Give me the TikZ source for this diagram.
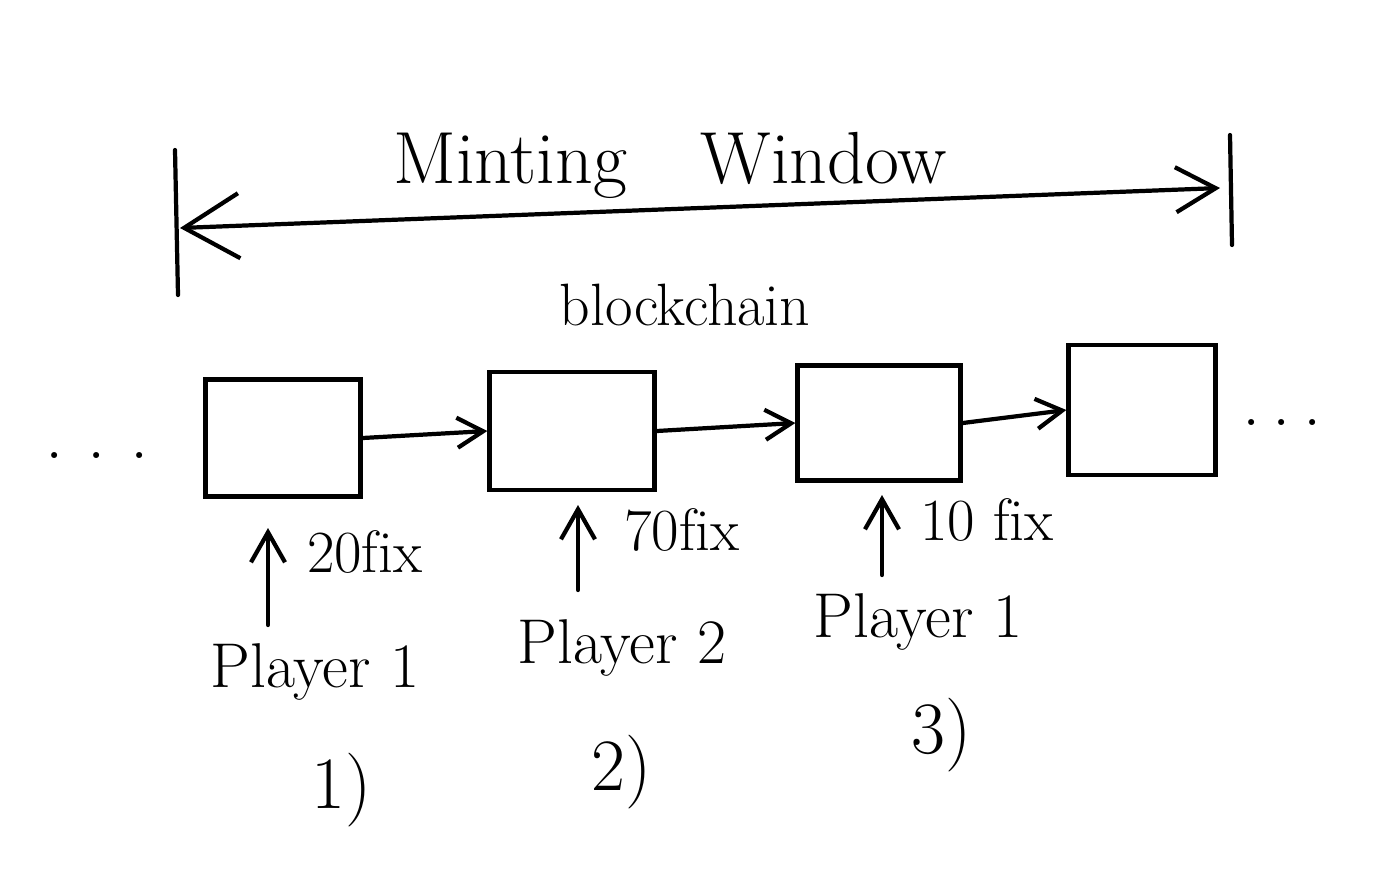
\documentclass[tikz,border=0pt]{standalone}
\usepackage{tikz}
\usetikzlibrary{positioning, arrows.meta}

\begin{document}
\begin{tikzpicture}[
    x=0.01cm, y=-0.01cm,
    line width=1.2pt, line cap=round,
    every node/.style={inner sep=0pt},
    blk/.style={draw, minimum width=1.55cm, minimum height=1.17cm},
    link/.style={-{Straight Barb[length=2.6mm, width=3mm]}},
    push/.style={-{Straight Barb[length=3mm, width=3.4mm]}},
    span/.style={{Straight Barb[length=5.5mm, width=6.5mm]}-{Straight Barb[length=4mm, width=4.5mm]}},
    title/.style={font=\fontsize{21}{25}\selectfont},
    chainlbl/.style={font=\fontsize{17}{20}\selectfont},
    fixlbl/.style={font=\fontsize{17}{20}\selectfont, anchor=west},
    who/.style={font=\fontsize{18}{22}\selectfont},
    dotsl/.style={font=\huge},
    num/.style={font=\fontsize{21}{25}\selectfont}
]
\useasboundingbox (0,0) rectangle (1400,875);

% minting window
\coordinate (lt) at (175,150);
\coordinate (lb) at (178,295);
\coordinate (rt) at (1230,135);
\coordinate (rb) at (1232,245);
\draw (lt) -- (lb);
\draw (rt) -- (rb);
\coordinate (wl) at (180,228);
\coordinate (wr) at (1220,188);
\draw[span] (wl) -- (wr);
\node[title] (win) at (670,165) {Minting\quad Window};

% blockchain
\node[chainlbl] (chain) at (685,305) {blockchain};
\node[blk] (b1) at (283,438) {};
\node[blk, minimum width=1.65cm, minimum height=1.18cm] (b2) at (572,431) {};
\node[blk, minimum width=1.63cm, minimum height=1.15cm] (b3) at (879,423) {};
\node[blk, minimum width=1.47cm, minimum height=1.3cm] (b4) at (1142,410) {};
\draw[link] (b1.east) -- (b2.west);
\draw[link] (b2.east) -- (b3.west);
\draw[link] (b3.east) -- (b4.west);
\node[dotsl] (ldots) at (97,455) {.\,\,.\,\,.};
\node[dotsl] (rdots) at (1282,422) {.\,.\,.};

% transactions
\coordinate (u1) at (268,625);
\coordinate (t1) at (268,528);
\coordinate (u2) at (578,590);
\coordinate (t2) at (578,505);
\coordinate (u3) at (882,575);
\coordinate (t3) at (882,495);
\draw[push] (u1) -- (t1);
\draw[push] (u2) -- (t2);
\draw[push] (u3) -- (t3);
\node[fixlbl] (f1) at (305,552) {20\mbox{f}ix};
\node[fixlbl] (f2) at (622,530) {70\mbox{f}ix};
\node[fixlbl] (f3) at (918,520) {10 \mbox{f}ix};

% players
\node[who] (p1) at (315,672) {Player 1};
\node[who] (p2) at (622,648) {Player 2};
\node[who] (p3) at (918,622) {Player 1};
\node[num] (n1) at (342,790) {1)};
\node[num] (n2) at (622,772) {2)};
\node[num] (n3) at (942,735) {3)};
\end{tikzpicture}
\end{document}
